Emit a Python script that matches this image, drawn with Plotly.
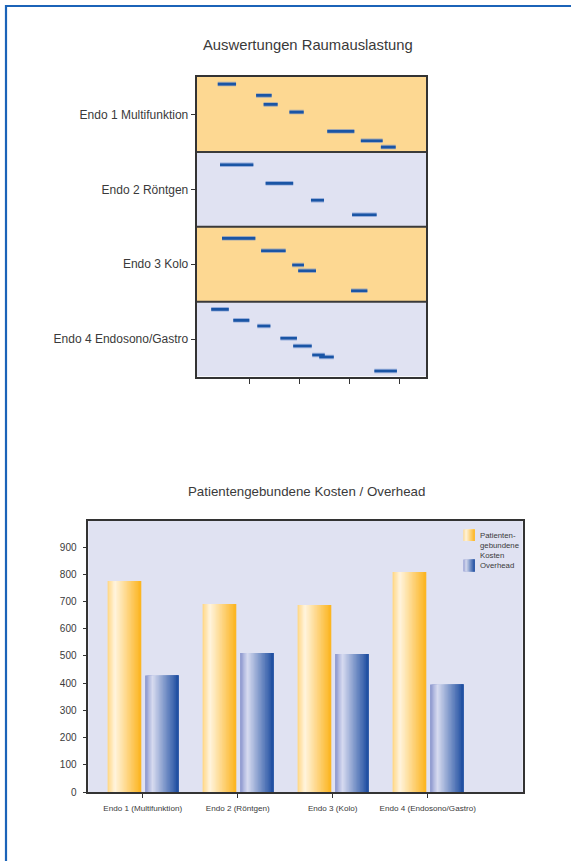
import plotly.graph_objects as go

# ---------------- data ----------------
rooms = ["Endo 1 Multifunktion", "Endo 2 Röntgen", "Endo 3 Kolo", "Endo 4 Endosono/Gastro"]
room_pos = [3.5, 2.5, 1.5, 0.5]

room1_start = [6.74, 8.27, 8.57, 9.60, 11.11, 12.45, 13.25]
room1_end = [7.47, 8.89, 9.13, 10.17, 12.19, 13.32, 13.84]
room1_lane = [3.905, 3.754, 3.634, 3.531, 3.274, 3.148, 3.064]

room2_start = [6.83, 8.65, 10.46, 12.10]
room2_end = [8.16, 9.75, 10.98, 13.08]
room2_lane = [2.828, 2.580, 2.353, 2.160]

room3_start = [6.91, 8.47, 9.71, 9.95, 12.06]
room3_end = [8.24, 9.45, 10.18, 10.66, 12.71]
room3_lane = [1.845, 1.680, 1.489, 1.413, 1.146]

room4_start = [6.48, 7.36, 8.32, 9.24, 9.75, 10.51, 10.79, 12.99]
room4_end = [7.18, 8.00, 8.84, 9.90, 10.49, 11.01, 11.37, 13.89]
room4_lane = [0.897, 0.750, 0.674, 0.510, 0.407, 0.287, 0.260, 0.073]

time_ticks = [8, 10, 12, 14]

categories = ["Endo 1 (Multifunktion)", "Endo 2 (Röntgen)", "Endo 3 (Kolo)", "Endo 4 (Endosono/Gastro)"]
patient_costs = [776, 691, 687, 809]
overhead = [428, 511, 507, 395]
cost_ticks = [0, 100, 200, 300, 400, 500, 600, 700, 800, 900]

# ---------------- styling ----------------
W, H = 571, 867
S = 1.007  # vertical compensation
TXT = "#3a3a3a"
FONT = "Liberation Sans, Arial, sans-serif"
ORANGE_BAND = "#FDD892"
LAV = "#E0E2F2"
SEG = "#1A55A5"

ORANGE_STOPS = [(0.0, (255, 214, 130)), (0.22, (255, 244, 222)), (1.0, (252, 180, 30))]
BLUE_STOPS = [(0.0, (134, 146, 204)), (0.22, (216, 220, 240)), (1.0, (28, 76, 160))]


def grad(stops, t):
    for (t0, c0), (t1, c1) in zip(stops[:-1], stops[1:]):
        if t <= t1:
            f = (t - t0) / (t1 - t0) if t1 > t0 else 0
            c = [round(a + (b - a) * f) for a, b in zip(c0, c1)]
            return "rgb(%d,%d,%d)" % tuple(c)
    return "rgb(%d,%d,%d)" % stops[-1][1]


def px(x):
    return x / W


def py(y):
    return max(0.0, 1 - y * S / H)


fig = go.Figure()

# ---------------- top chart: room usage ----------------
for starts, ends, lanes in [
    (room1_start, room1_end, room1_lane),
    (room2_start, room2_end, room2_lane),
    (room3_start, room3_end, room3_lane),
    (room4_start, room4_end, room4_lane),
]:
    xs, ys = [], []
    for s, e, l in zip(starts, ends, lanes):
        xs += [s, e, None]
        ys += [l, l, None]
    fig.add_trace(go.Scatter(x=xs, y=ys, mode="lines", xaxis="x", yaxis="y",
                             line=dict(color="rgba(90,130,200,0.55)", width=4.5),
                             showlegend=False, hoverinfo="skip"))
    fig.add_trace(go.Scatter(x=xs, y=ys, mode="lines", xaxis="x", yaxis="y",
                             line=dict(color=SEG, width=2.6),
                             showlegend=False))

shapes = []
band_cols = [LAV, ORANGE_BAND, LAV, ORANGE_BAND]
for i, c in enumerate(band_cols):
    shapes.append(dict(type="rect", xref="x domain", yref="y", x0=0, x1=1, y0=i, y1=i + 1,
                       fillcolor=c, line=dict(width=0), layer="below"))
for yv in [1, 2, 3]:
    shapes.append(dict(type="line", xref="x domain", yref="y", x0=0, x1=1, y0=yv, y1=yv,
                       line=dict(color="#3a3a3a", width=2), layer="above"))

# ---------------- bottom chart: costs ----------------
N = 24
o_off, o_w = -0.37, 0.35
b_off, b_w = 0.025, 0.35
cat_x = list(range(len(categories)))
for vals, off, wdt, stops in [(patient_costs, o_off, o_w, ORANGE_STOPS), (overhead, b_off, b_w, BLUE_STOPS)]:
    sw = wdt / N
    for i in range(N):
        t = (i + 0.5) / N
        fig.add_trace(go.Bar(x=cat_x, y=vals, xaxis="x2", yaxis="y2",
                             offset=off + i * sw, width=wdt - i * sw,
                             marker=dict(color=grad(stops, t), line=dict(width=0)),
                             showlegend=False, hoverinfo="skip"))

# legend (manual, gradient swatches)
annotations = []
for (y0, y1, stops) in [(529.5, 541, ORANGE_STOPS), (559.5, 571.5, BLUE_STOPS)]:
    x0, x1 = 463.3, 474.7
    n = 10
    for i in range(n):
        t = (i + 0.5) / n
        shapes.append(dict(type="rect", xref="paper", yref="paper",
                           x0=px(x0 + (x1 - x0) * i / n), x1=px(x1),
                           y0=py(y1), y1=py(y0), fillcolor=grad(stops, t), line=dict(width=0)))
annotations.append(dict(text="Patienten-<br>gebundene<br>Kosten", xref="paper", yref="paper",
                        x=px(477.5), y=py(529), xanchor="left", yanchor="top", showarrow=False,
                        align="left", font=dict(size=7.8, color=TXT, family=FONT)))
annotations.append(dict(text="Overhead", xref="paper", yref="paper",
                        x=px(477.5), y=py(565.8), xanchor="left", yanchor="middle", showarrow=False,
                        align="left", font=dict(size=7.8, color=TXT, family=FONT)))

# titles
annotations.append(dict(text="Auswertungen Raumauslastung", xref="paper", yref="paper",
                        x=px(308), y=py(45), xanchor="center", yanchor="middle", showarrow=False,
                        font=dict(size=14.8, color=TXT, family=FONT)))
annotations.append(dict(text="Patientengebundene Kosten / Overhead", xref="paper", yref="paper",
                        x=px(306), y=py(491), xanchor="center", yanchor="middle", showarrow=False,
                        font=dict(size=13.3, color=TXT, family=FONT)))

# outer frame (top and left)
shapes.append(dict(type="line", xref="paper", yref="paper", x0=px(6), x1=1.0, y0=py(6), y1=py(6),
                   line=dict(color="#1B63B8", width=2.2)))
shapes.append(dict(type="line", xref="paper", yref="paper", x0=px(6), x1=px(6), y0=py(5), y1=0,
                   line=dict(color="#1B63B8", width=2.2)))

axis_common = dict(showgrid=False, zeroline=False, showline=True, mirror=True,
                   linecolor="#333333", ticks="outside", tickcolor="#333333")

fig.update_layout(
    width=W, height=H,
    margin=dict(l=0, r=0, t=0, b=0),
    paper_bgcolor="white",
    plot_bgcolor="rgba(0,0,0,0)",
    barmode="overlay",
    showlegend=False,
    font=dict(family=FONT, color=TXT),
    shapes=shapes,
    annotations=annotations,
    xaxis=dict(domain=[px(196.7), px(426)], anchor="y", range=[5.90, 15.05],
               tickvals=time_ticks, showticklabels=False, ticklen=5, linewidth=2, **axis_common),
    yaxis=dict(domain=[py(376.5), py(77)], anchor="x", range=[0, 4],
               tickvals=room_pos, ticktext=rooms, ticklen=4, linewidth=2,
               tickfont=dict(size=12, color=TXT, family=FONT), **axis_common),
    xaxis2=dict(domain=[px(88.3), px(522.7)], anchor="y2", range=[-0.573, 4.0],
                tickvals=cat_x, ticktext=categories, ticklen=4, linewidth=1.5, ticklabelstandoff=4,
                tickfont=dict(size=8.1, color=TXT, family=FONT), **axis_common),
    yaxis2=dict(domain=[py(792), py(521)], anchor="x2", range=[0, 996],
                tickvals=cost_ticks, ticklen=4, linewidth=1.5, ticklabelstandoff=4,
                tickfont=dict(size=10, color=TXT, family=FONT), **axis_common),
)
fig.add_shape(type="rect", xref="x2 domain", yref="y2 domain", x0=0, x1=1, y0=0, y1=1,
              fillcolor=LAV, line=dict(width=0), layer="below")

fig.write_html("out.html")
